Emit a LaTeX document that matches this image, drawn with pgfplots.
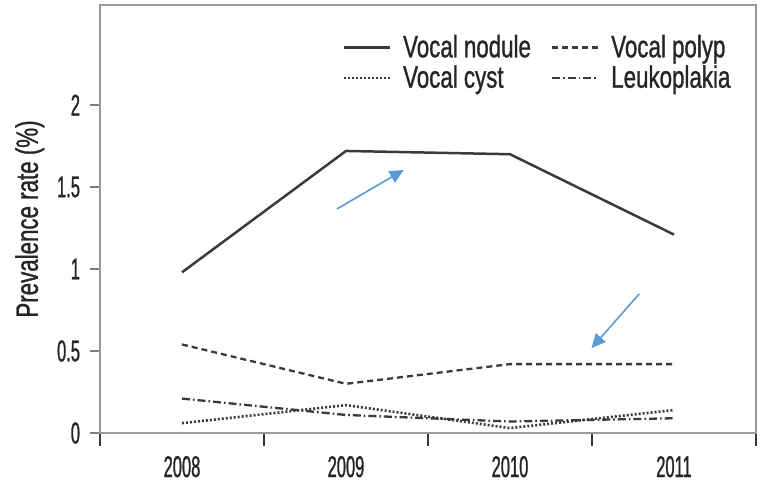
\documentclass[border=0pt]{standalone}
\usepackage{pgfplots}
\pgfplotsset{compat=1.18}
\usepackage{fontspec}
\setmainfont{Liberation Sans}[FakeStretch=0.72,FakeBold=1]
\newfontfamily\numfont{Liberation Sans}[FakeStretch=0.55,FakeBold=1]
\usetikzlibrary{arrows.meta}
\definecolor{txt}{HTML}{262626}
\definecolor{ln}{HTML}{3A3A3A}
\definecolor{arr}{HTML}{5B9BD5}
\begin{document}
\begin{tikzpicture}
\begin{axis}[
  scale only axis,
  width=328pt, height=214pt,
  xmin=2007.5, xmax=2011.5,
  ymin=0, ymax=2.61,
  xtick={2008,2009,2010,2011},
  xticklabels={2008,2009,2010,2011},
  major x tick style={draw=none},
  minor xtick={2007.5,2008.5,2009.5,2010.5,2011.5},
  minor x tick style={draw=ln, line width=0.8pt},
  minor tick length=6.5pt,
  ytick={0,0.5,1,1.5,2},
  yticklabels={0,0.5,1,1.5,2},
  major y tick style={draw=gray, line width=0.7pt},
  major tick length=5pt,
  tick align=outside,
  xtick pos=bottom, ytick pos=left,
  axis line style={draw=gray!80, line width=0.8pt},
  tick label style={font=\fontsize{15}{17}\selectfont\numfont, text=txt},
  /pgf/number format/assume math mode=true,
  xticklabel style={yshift=-3pt},
  yticklabel style={xshift=-1.5pt},
  ylabel={Prevalence rate (\%)},
  ylabel style={font=\fontsize{15.5}{17}\selectfont, text=txt, at={(axis description cs:-0.107,0.5)}, anchor=center},
  legend columns=2,
  legend style={draw=none, fill=none, at={(rel axis cs:0.36,0.95)}, anchor=north west,
    font=\fontsize{15.5}{17}\selectfont, text=txt, row sep=-1.5pt,
    /tikz/every odd column/.append style={column sep=4pt},
    /tikz/every even column/.append style={column sep=8pt}},
  legend cell align=left,
  legend image code/.code={\draw[#1] (0pt,0pt) -- (23pt,0pt);},
]
\addplot[ln, line width=1.25pt] coordinates {(2008,0.98) (2009,1.72) (2010,1.70) (2011,1.21)};
\addlegendentry{Vocal nodule}
\addplot[ln, line width=1.15pt, dash pattern=on 3pt off 2pt] coordinates {(2008,0.54) (2009,0.30) (2010,0.42) (2011,0.42)};
\addlegendentry{Vocal polyp}
\addplot[ln, line width=1.3pt, dash pattern=on 1pt off 1pt] coordinates {(2008,0.06) (2009,0.17) (2010,0.03) (2011,0.14)};
\addlegendentry{Vocal cyst}
\addplot[ln, line width=1.15pt, dash pattern=on 4pt off 1.5pt on 0.8pt off 1.5pt] coordinates {(2008,0.21) (2009,0.11) (2010,0.07) (2011,0.09)};
\addlegendentry{Leukoplakia}
\draw[arr, line width=0.8pt, -{Triangle[length=7pt,width=6.5pt]}] (axis cs:2008.945,1.366) -- (axis cs:2009.352,1.604);
\draw[arr, line width=0.8pt, -{Triangle[length=7pt,width=6.5pt]}] (axis cs:2010.788,0.848) -- (axis cs:2010.497,0.518);
\end{axis}
\pgfresetboundingbox
\path ([shift={(-50pt,-31pt)}]current axis.south west) rectangle ([shift={(5pt,2.5pt)}]current axis.north east);
\end{tikzpicture}
\end{document}
